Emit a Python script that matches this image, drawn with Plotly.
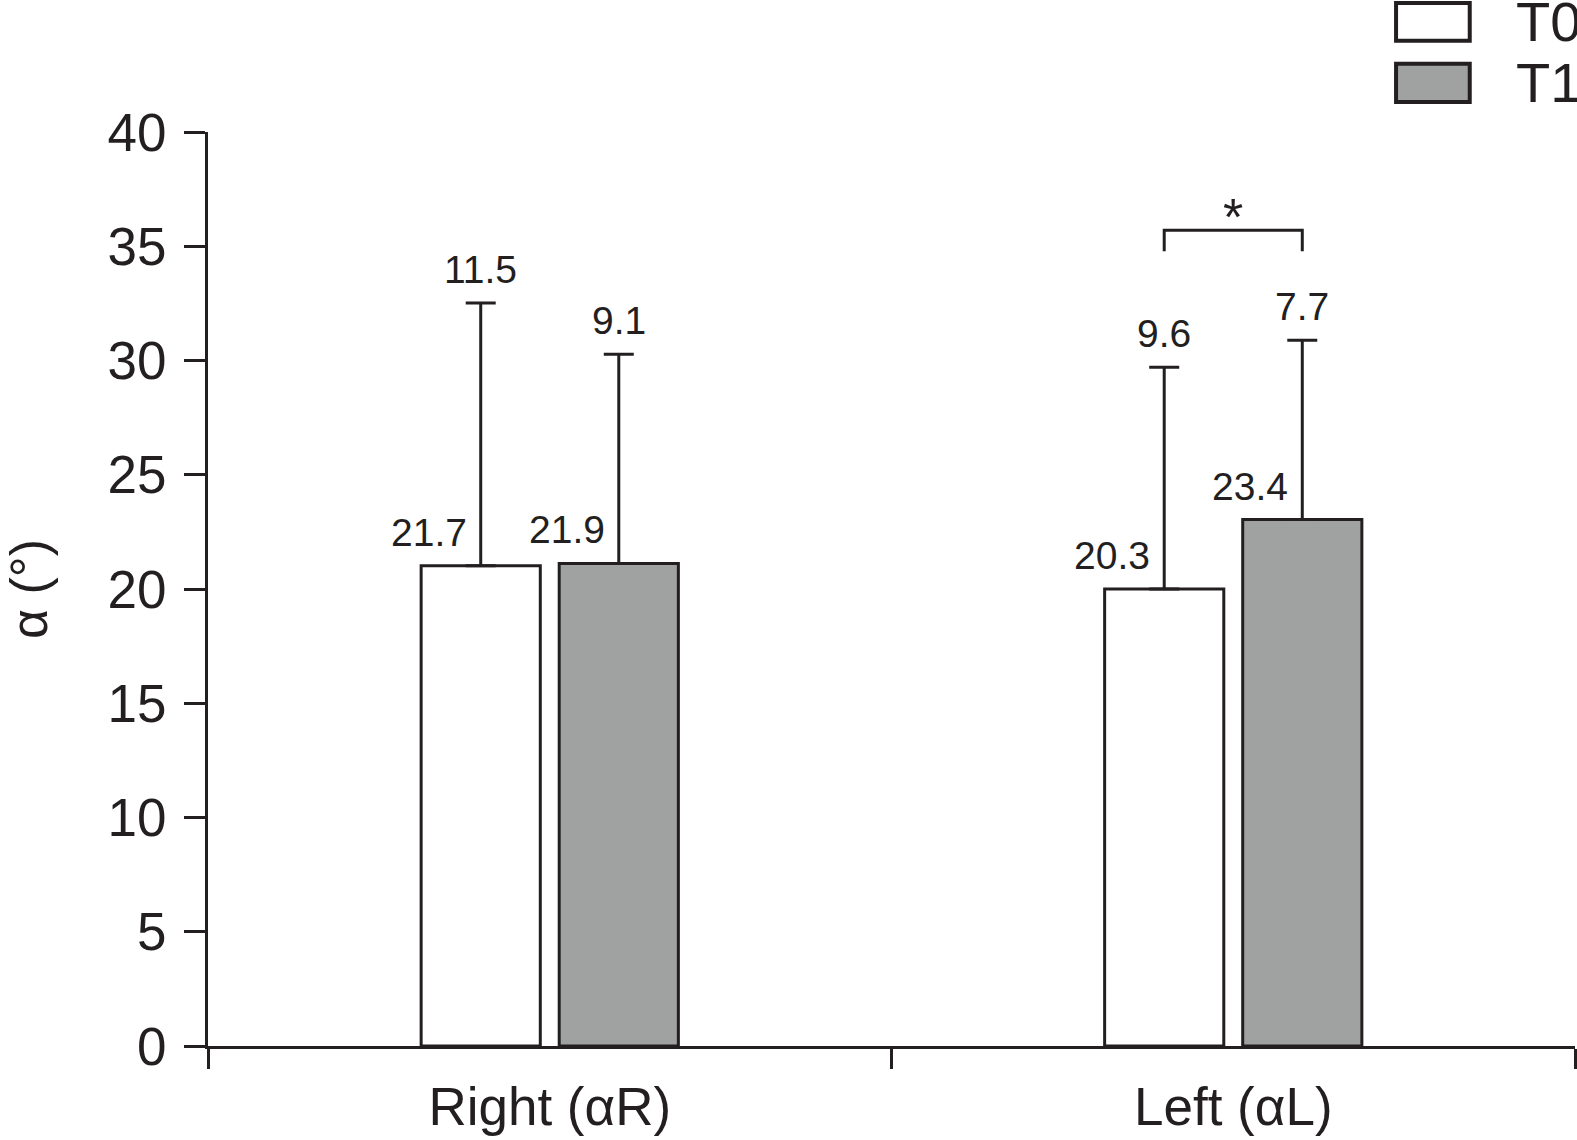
import plotly.graph_objects as go

# data
categories = ["Right (αR)", "Left (αL)"]
t0_mean = [21.02, 20.0]
t1_mean = [21.12, 23.04]
t0_sd = [11.5, 9.7]
t1_sd = [9.15, 7.85]
t0_mean_text = ["21.7", "20.3"]
t1_mean_text = ["21.9", "23.4"]
t0_sd_text = ["11.5", "9.6"]
t1_sd_text = ["9.1", "7.7"]
series_names = ["T0", "T1"]

INK = "#231F20"
GREY = "#A0A2A1"
FONT = "Liberation Sans, Arial, sans-serif"
OFF = 0.101  # half the distance between the two bar centres, in category units

fig = go.Figure()
for name, means, sds, fill in [
    (series_names[0], t0_mean, t0_sd, "white"),
    (series_names[1], t1_mean, t1_sd, GREY),
]:
    fig.add_trace(go.Bar(
        x=categories, y=means, name=name,
        marker=dict(color=fill, line=dict(color=INK, width=3)),
        error_y=dict(type="data", symmetric=False, array=sds, arrayminus=[0] * len(sds),
                     color=INK, thickness=3, width=15),
        showlegend=False,
    ))

annotations = []
for i in range(len(categories)):
    for side, means, sds, mtxt, stxt in [
        (-1, t0_mean, t0_sd, t0_mean_text, t0_sd_text),
        (1, t1_mean, t1_sd, t1_mean_text, t1_sd_text),
    ]:
        xc = i + side * OFF
        annotations.append(dict(x=xc, y=means[i], text=mtxt[i], xanchor="right", yanchor="bottom",
                                xshift=-12, yshift=10, showarrow=False,
                                font=dict(size=39, color=INK, family=FONT)))
        annotations.append(dict(x=xc, y=means[i] + sds[i], text=stxt[i], xanchor="center",
                                yanchor="bottom", yshift=10, showarrow=False,
                                font=dict(size=39, color=INK, family=FONT)))

# significance bracket over the Left pair
annotations.append(dict(x=1, y=35.7, text="*", xanchor="center", yanchor="bottom", yshift=-18,
                        showarrow=False, font=dict(size=52, color=INK, family=FONT)))

# legend drawn by hand (large swatches)
shapes = [
    dict(type="path", xref="x", yref="y",
         path=f"M {1 - OFF},34.78 L {1 - OFF},35.7 L {1 + OFF},35.7 L {1 + OFF},34.78",
         line=dict(color=INK, width=3)),
    dict(type="rect", xref="paper", yref="paper", x0=0.8691, x1=0.9230, y0=1.0999, y1=1.1411,
         fillcolor="white", line=dict(color=INK, width=4)),
    dict(type="rect", xref="paper", yref="paper", x0=0.8691, x1=0.9230, y0=1.0328, y1=1.0747,
         fillcolor=GREY, line=dict(color=INK, width=4)),
]
for name, yy in zip(series_names, [1.1207, 1.0547]):
    annotations.append(dict(xref="paper", yref="paper", x=0.9554, y=yy, text=name,
                            xanchor="left", yanchor="middle", showarrow=False,
                            font=dict(size=56, color=INK, family=FONT)))

fig.update_layout(
    width=1577, height=1140,
    margin=dict(l=208, r=2, t=132, b=94),
    plot_bgcolor="white", paper_bgcolor="white",
    barmode="group", bargap=0.596, bargroupgap=0.137,
    font=dict(family=FONT, color=INK),
    annotations=annotations, shapes=shapes,
    xaxis=dict(showline=True, linecolor=INK, linewidth=3, ticks="outside", tickson="boundaries",
               ticklen=20, tickwidth=3, tickcolor=INK, showgrid=False, ticklabelstandoff=12,
               automargin=False, tickfont=dict(size=53, color=INK, family=FONT)),
    yaxis=dict(range=[0, 40], dtick=5, showline=True, linecolor=INK, linewidth=3,
               ticks="outside", ticklen=21, tickwidth=3, tickcolor=INK, showgrid=False,
               zeroline=False, ticklabelstandoff=7, automargin=False,
               tickfont=dict(size=53, color=INK, family=FONT),
               title=dict(text="α (°)", standoff=80, font=dict(size=52, color=INK, family=FONT))),
)

# drop the browser's default 8px body margin so the figure sits at the page corner
fig.write_html("out.html", config={"displayModeBar": False},
               post_script="document.body.style.margin='0';")
